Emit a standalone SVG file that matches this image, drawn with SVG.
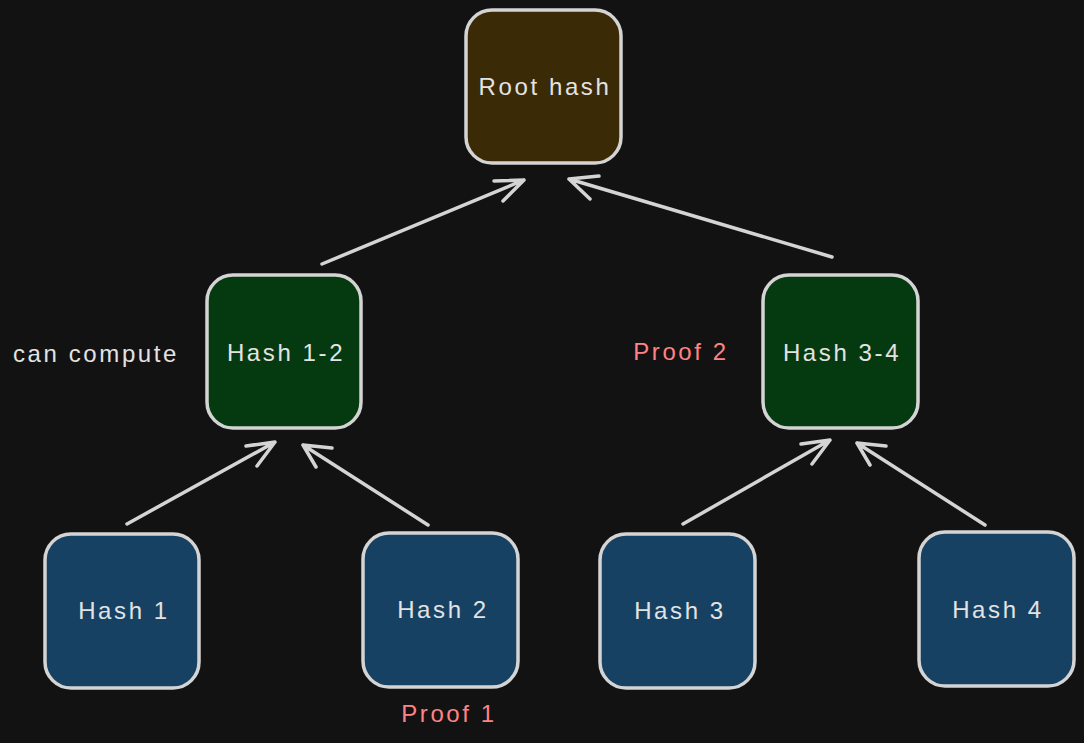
<svg xmlns="http://www.w3.org/2000/svg" width="1084" height="743" viewBox="0 0 1084 743">
<defs>
<style>
.box{stroke:#d4d4d4;stroke-width:3.5}
.root{fill:#3a2a06}
.green{fill:#053a10}
.blue{fill:#164162}
.t{font-family:"Liberation Sans",sans-serif;font-size:24px;fill:#e3e3e3;text-anchor:middle;dominant-baseline:central;letter-spacing:2.6px}
.red{fill:#ff8383}
.c{stroke:#d4d4d4;stroke-width:3.5;fill:none;stroke-linecap:round;stroke-linejoin:round}
</style>
</defs>
<rect width="1084" height="743" fill="#121212"/>
<g id="connectors">
<path class="c" d="M322,264 L524,180 M494,181 L524,180 L503,201"/>
<path class="c" d="M832,257 L569,179 M590,199 L569,179 L599,176"/>
<path class="c" d="M127,524 L275,442 M246,446 L275,442 L257,466"/>
<path class="c" d="M428,525 L303,445 M316,467 L303,445 L332,448"/>
<path class="c" d="M683,524 L830,440 M801,444 L830,440 L812,464"/>
<path class="c" d="M985,525 L857,443 M870,465 L857,443 L886,446"/>
</g>
<g id="root"><rect class="box root" x="466" y="10" width="155" height="153" rx="26"/><text class="t" x="545" y="86">Root hash</text></g>
<g id="hash12"><rect class="box green" x="207" y="275" width="154" height="153" rx="26"/><text class="t" x="286" y="352">Hash 1-2</text></g>
<g id="hash34"><rect class="box green" x="763" y="275" width="155" height="153" rx="26"/><text class="t" x="842" y="352">Hash 3-4</text></g>
<g id="hash1"><rect class="box blue" x="45" y="534" width="154" height="154" rx="26"/><text class="t" x="124" y="610">Hash 1</text></g>
<g id="hash2"><rect class="box blue" x="363" y="533" width="155" height="154" rx="26"/><text class="t" x="443" y="609">Hash 2</text></g>
<g id="hash3"><rect class="box blue" x="600" y="534" width="155" height="154" rx="26"/><text class="t" x="680" y="610">Hash 3</text></g>
<g id="hash4"><rect class="box blue" x="919" y="532" width="155" height="154" rx="26"/><text class="t" x="998" y="609">Hash 4</text></g>
<g id="labels">
<text class="t" x="96" y="353">can compute</text>
<text class="t red" x="681" y="351">Proof 2</text>
<text class="t red" x="449" y="713">Proof 1</text>
</g>
</svg>
